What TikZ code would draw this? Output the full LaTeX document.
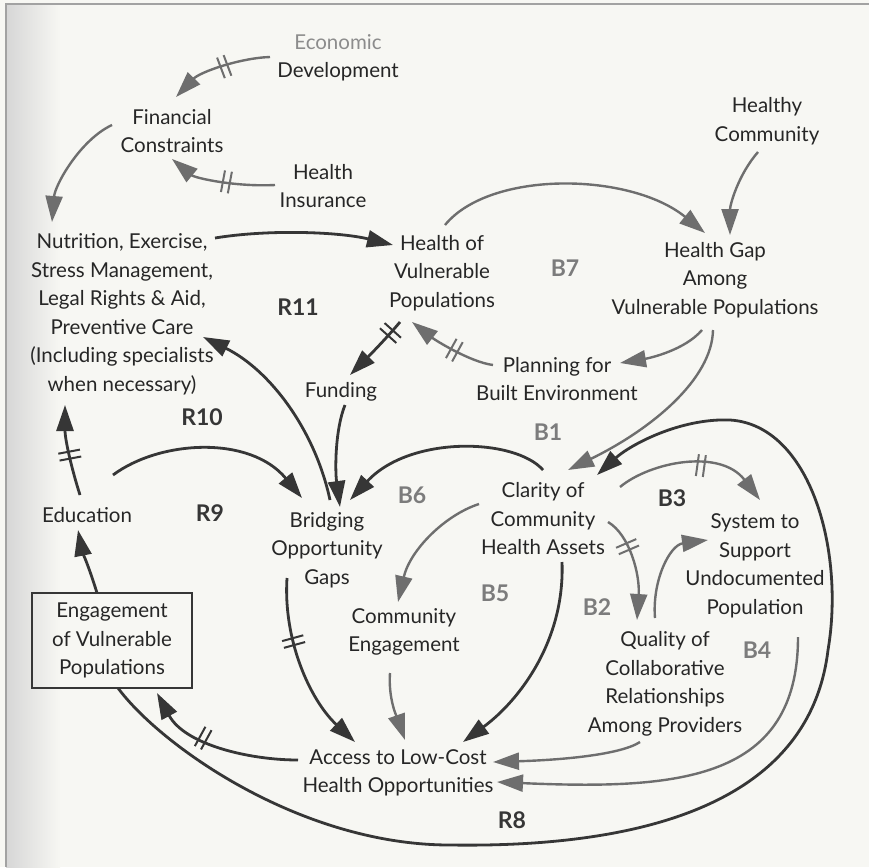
\documentclass[tikz,border=0pt]{standalone}
\usepackage{fontspec}
\setmainfont{Lato}
\usetikzlibrary{arrows.meta,calc,decorations.markings}

\definecolor{paper}{HTML}{F7F7F3}
\definecolor{ink}{HTML}{262626}
\definecolor{darkline}{HTML}{363636}
\definecolor{greyline}{HTML}{6E6E6E}
\definecolor{loopgrey}{HTML}{7C7C7C}
\definecolor{frameline}{HTML}{A2A2A2}

\tikzset{
  var/.style={align=center, text=ink, inner sep=0pt,
    font=\fontsize{20.5}{28.5}\selectfont},
  loopname/.style={inner sep=0pt, text=darkline,
    font=\fontsize{23}{23}\selectfont\bfseries},
  loopsoft/.style={loopname, text=loopgrey},
  tip/.style={-{Triangle[length=26pt,width=17pt]}},
  strong/.style={draw=darkline, line width=2.8pt, tip},
  soft/.style={draw=greyline, line width=2.4pt, tip},
  delaydark/.style={postaction={decorate, decoration={markings,
    mark=at position #1 with {\draw[darkline, line width=2pt, -]
      (-3.5,-11) -- (-3.5,11) (3.5,-11) -- (3.5,11);}}}},
  delaysoft/.style={postaction={decorate, decoration={markings,
    mark=at position #1 with {\draw[greyline, line width=2pt, -]
      (-3.5,-11) -- (-3.5,11) (3.5,-11) -- (3.5,11);}}}},
}

\begin{document}
\begin{tikzpicture}[x=1pt, y=-1pt]
  % paper and scan frame
  \useasboundingbox (0,0) rectangle (869,867);
  \fill[paper] (0,0) rectangle (869,867);
  \shade[left color=black!16, right color=paper] (6,4) rectangle (60,867);
  \draw[frameline, line width=1.6pt] (6,867) -- (6,4) -- (869,4);

  % variables
  \node[var] (econ) at (338,58) {\textcolor{black!45}{Economic}\\Development};
  \node[var] (fin) at (172,131) {Financial\\Constraints};
  \node[var] (ins) at (323,186) {Health\\Insurance};
  \node[var] (nutr) at (122,314) {Nutrition, Exercise,\\Stress Management,\\Legal Rights \& Aid,\\Preventive Care\\(Including specialists\\when necessary)};
  \node[var] (hvp) at (442,273) {Health of\\Vulnerable\\Populations};
  \node[var] (hc) at (767,121) {Healthy\\Community};
  \node[var] (gap) at (715,280) {Health Gap\\Among\\Vulnerable Populations};
  \node[var] (fund) at (341,392) {Funding};
  \node[var] (plan) at (557,379) {Planning for\\Built Environment};
  \node[var] (clar) at (543,519) {Clarity of\\Community\\Health Assets};
  \node[var] (sys) at (755,566) {System to\\Support\\Undocumented\\Population};
  \node[var] (edu) at (87,515) {Education};
  \node[var] (bridge) at (327,550) {Bridging\\Opportunity\\Gaps};
  \node[var, draw=darkline, line width=2.3pt, minimum width=160pt,
        minimum height=95pt] (eng) at (112,640.5)
        {Engagement\\of Vulnerable\\Populations};
  \node[var] (ce) at (404,632) {Community\\Engagement};
  \node[var] (qual) at (665,684) {Quality of\\Collaborative\\Relationships\\Among Providers};
  \node[var] (acc) at (398,773) {Access to Low-Cost\\Health Opportunities};

  % loop names
  \node[loopsoft] (b7) at (565,268) {B7};
  \node[loopname] (r11) at (298,307) {R11};
  \node[loopname] (r10) at (202,417) {R10};
  \node[loopsoft] (b1) at (548,432) {B1};
  \node[loopsoft] (b6) at (412,495) {B6};
  \node[loopname] (b3) at (672,498) {B3};
  \node[loopname] (r9) at (210,513) {R9};
  \node[loopsoft] (b5) at (495,593) {B5};
  \node[loopsoft] (b2) at (597,607) {B2};
  \node[loopsoft] (b4) at (757,650) {B4};
  \node[loopname] (r8) at (512,820) {R8};

  % links in the upper part
  \draw[soft, delaysoft=0.45] ($(econ)+(-68,-1)$) .. controls (240,58) and (200,72) .. ($(fin)+(4,-34)$);
  \draw[soft, delaysoft=0.45] ($(ins)+(-48,-1)$) .. controls (235,187) and (195,178) .. ($(fin)+(0,28)$);
  \draw[soft] ($(fin)+(-60,-6)$) .. controls (80,140) and (55,185) .. ($(nutr)+(-70,-92)$);
  \draw[strong] ($(nutr)+(93,-76)$) .. controls (270,229) and (340,232) .. ($(hvp)+(-49,-28)$);
  \draw[soft] ($(hvp)+(3,-48)$) .. controls (490,170) and (630,172) .. ($(gap)+(-10,-47)$);
  \draw[soft] ($(hc)+(-9,31)$) .. controls (738,175) and (730,205) .. ($(gap)+(15,-45)$);
  \draw[strong, delaydark=0.2] ($(hvp)+(-42,49)$) .. controls (385,340) and (365,360) .. ($(fund)+(9,-17)$);
  \draw[soft, delaysoft=0.45] ($(plan)+(-64,-14)$) .. controls (470,362) and (435,340) .. ($(hvp)+(-30,49)$);
  \draw[soft] ($(gap)+(-13,50)$) .. controls (685,350) and (650,358) .. ($(plan)+(63,-16)$);
  \draw[soft] ($(gap)+(-2,50)$) .. controls (712,380) and (650,430) .. ($(clar)+(25,-49)$);

  % links around Bridging Opportunity Gaps
  \draw[strong] ($(fund)+(4,13)$) .. controls (335,430) and (335,470) .. ($(bridge)+(13,-43)$);
  \draw[strong] ($(bridge)+(3,-50)$) .. controls (315,430) and (270,370) .. ($(nutr)+(81,23)$);
  \draw[strong] ($(edu)+(26,-40)$) .. controls (160,440) and (250,435) .. ($(bridge)+(-25,-52)$);
  \draw[strong, delaydark=0.45] ($(edu)+(-7,-20)$) .. controls (72,470) and (65,440) .. ($(nutr)+(-57,91)$);
  \draw[strong] ($(clar)+(0,-49)$) .. controls (515,438) and (410,435) .. ($(bridge)+(23,-50)$);
  \draw[strong] ($(eng)+(-15,-47.5)$) .. controls (90,570) and (82,550) .. ($(edu)+(-9,15)$);

  % links around Clarity of Community Health Assets
  \draw[soft] ($(clar)+(-64,-15)$) .. controls (445,515) and (410,550) .. ($(ce)+(-6,-30)$);
  \draw[strong] ($(clar)+(19,43)$) .. controls (565,640) and (520,700) .. ($(acc)+(65,-31)$);
  \draw[strong, delaydark=0.35] ($(bridge)+(-40,28)$) .. controls (283,640) and (310,700) .. ($(acc)+(-43,-31)$);
  \draw[soft] ($(ce)+(-14,41)$) .. controls (388,700) and (398,720) .. ($(acc)+(7,-33)$);
  \draw[strong, delaydark=0.6] ($(acc)+(-100,-13)$) .. controls (250,760) and (185,745) .. ($(eng)+(45,52.5)$);
  \draw[soft, delaysoft=0.55] ($(clar)+(77,-32)$) .. controls (650,462) and (720,448) .. ($(sys)+(5,-66)$);
  \draw[soft, delaysoft=0.3] ($(clar)+(65,3)$) .. controls (630,535) and (640,575) .. ($(qual)+(-28,-64)$);
  \draw[soft] ($(qual)+(-10,-66)$) .. controls (652,580) and (670,545) .. ($(sys)+(-47,-26)$);
  \draw[soft] ($(qual)+(-25,58)$) .. controls (620,755) and (560,760) .. ($(acc)+(95,-11)$);
  \draw[soft] ($(sys)+(43,71)$) .. controls (798,780) and (680,790) .. ($(acc)+(99,9)$);

  % outer loop R8
  \draw[strong] ($(eng)+(6,47.5)$) .. controls (160,745) and (300,845) .. (450,845)
      .. controls (650,848) and (810,800) .. (828,650)
      .. controls (845,550) and (810,425) .. (730,420)
      .. controls (680,418) and (630,445) .. ($(clar)+(54,-44)$);
\end{tikzpicture}
\end{document}
